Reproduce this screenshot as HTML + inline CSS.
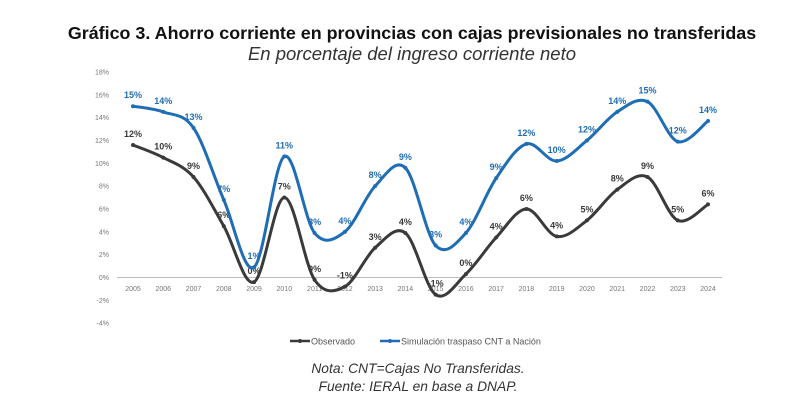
<!DOCTYPE html>
<html><head><meta charset="utf-8"><style>
body{margin:0;background:#fff;width:800px;height:406px;overflow:hidden;font-family:"Liberation Sans",sans-serif}
svg{position:absolute;left:0;top:0}
</style></head><body>
<svg width="800" height="406">
<text x="412" y="39" text-anchor="middle" font-size="17.9" font-weight="bold" fill="#111">Gráfico 3. Ahorro corriente en provincias con cajas previsionales no transferidas</text>
<text x="412" y="60" text-anchor="middle" font-size="18.5" font-style="italic" fill="#333">En porcentaje del ingreso corriente neto</text>
<g id="axes"></g><g id="series"></g>
<g>
<line x1="290" y1="341" x2="310" y2="341" stroke="#3a3a3a" stroke-width="2.5"/><circle cx="300" cy="341" r="2" fill="#3a3a3a"/>
<text x="311" y="344.5" font-size="9" fill="#555">Observado</text>
<line x1="380" y1="341" x2="400" y2="341" stroke="#1f6db5" stroke-width="2.5"/><circle cx="390" cy="341" r="2" fill="#1f6db5"/>
<text x="401" y="344.5" font-size="9" fill="#555">Simulación traspaso CNT a Nación</text>
</g>
<text x="418" y="373" text-anchor="middle" font-size="13.8" font-style="italic" fill="#333">Nota: CNT=Cajas No Transferidas.</text>
<text x="418" y="391" text-anchor="middle" font-size="13.8" font-style="italic" fill="#333">Fuente: IERAL en base a DNAP.</text>
</svg>
<script>
const years=[2005,2006,2007,2008,2009,2010,2011,2012,2013,2014,2015,2016,2017,2018,2019,2020,2021,2022,2023,2024];
const observado=[11.6,10.5,8.8,4.5,-0.4,7.0,-0.2,-0.8,2.6,3.9,-1.5,0.3,3.5,6.0,3.6,5.0,7.7,8.8,5.0,6.4];
const simulacion=[15.0,14.5,13.1,6.8,0.9,10.6,3.9,4.0,8.0,9.6,2.8,3.9,8.7,11.7,10.2,12.0,14.5,15.4,11.9,13.7];
const obsLabels=["12%","10%","9%","6%","0%","7%","0%","-1%","3%","4%","-1%","0%","4%","6%","4%","5%","8%","9%","5%","6%"];
const simLabels=["15%","14%","13%","7%","1%","11%","3%","4%","8%","9%","3%","4%","9%","12%","10%","12%","14%","15%","12%","14%"];
const yTicks=[18,16,14,12,10,8,6,4,2,0,-2,-4];
const NS="http://www.w3.org/2000/svg";
const x=i=>133+i*(575/19);
const y=v=>277.5-v*11.42;
function mk(t,a,p){const e=document.createElementNS(NS,t);for(const k in a)e.setAttribute(k,a[k]);p.appendChild(e);return e;}
const ax=document.getElementById('axes');
yTicks.forEach(t=>{const e=mk('text',{x:109,y:y(t)+2.5,'text-anchor':'end','font-size':'7',fill:'#777'},ax);e.textContent=t+'%';

});
const zl=mk('line',{x1:117,x2:722,y1:y(0),y2:y(0),stroke:'#bbb','stroke-width':1},ax);


years.forEach((yr,i)=>{const e=mk('text',{x:x(i),y:291,'text-anchor':'middle','font-size':'7',fill:'#777'},ax);e.textContent=yr;

});
function path(vals){const p=vals.map((v,i)=>[x(i),y(v)]);let d='M'+p[0];
for(let i=0;i<p.length-1;i++){const p0=p[i-1]||p[i],p1=p[i],p2=p[i+1],p3=p[i+2]||p2;const k=1/6;
d+=' C'+(p1[0]+(p2[0]-p0[0])*k)+','+(p1[1]+(p2[1]-p0[1])*k)+' '+(p2[0]-(p3[0]-p1[0])*k)+','+(p2[1]-(p3[1]-p1[1])*k)+' '+p2;}return d;}
const sg=document.getElementById('series');
function series(vals,labels,col,name){const g=mk('g',{},sg);


mk('path',{d:path(vals),fill:'none',stroke:col,'stroke-width':3},g);
vals.forEach((v,i)=>{const c=mk('circle',{cx:x(i),cy:y(v),r:2,fill:col},g);


const t=mk('text',{x:x(i),y:y(v)-8,'text-anchor':'middle','font-size':'9','font-weight':'bold',fill:col},g);t.textContent=labels[i];

});}
series(observado,obsLabels,'#3a3a3a','observado');
series(simulacion,simLabels,'#1f6db5','simulacion');
</script>
</body></html>
